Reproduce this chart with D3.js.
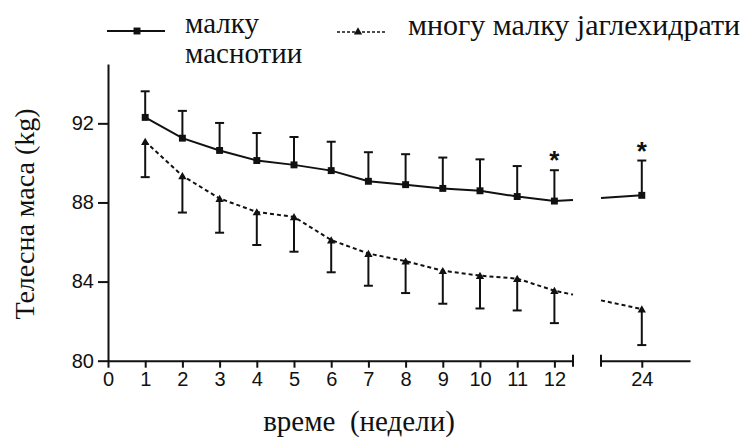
<!DOCTYPE html>
<html lang="mk">
<head>
<meta charset="utf-8">
<script src="https://cdn.jsdelivr.net/npm/d3@7"></script>
<style>
body { margin: 0; background: #fff; }
</style>
</head>
<body>
<div id="chart"></div>
<script>
// weeks 1..12 plus the week 24 point after the axis break
var weeks = [1, 2, 3, 4, 5, 6, 7, 8, 9, 10, 11, 12]
var lowFat = [92.3, 91.25, 90.63, 90.12, 89.9, 89.61, 89.07, 88.9, 88.71, 88.59, 88.3, 88.07]
var lowFatErr = [1.32, 1.38, 1.39, 1.39, 1.41, 1.46, 1.47, 1.54, 1.56, 1.59, 1.54, 1.56]
var lowCarb = [91.08, 89.35, 88.2, 87.52, 87.27, 86.1, 85.42, 85.03, 84.55, 84.3, 84.15, 83.54]
var lowCarbErr = [1.8, 1.86, 1.73, 1.67, 1.76, 1.63, 1.63, 1.61, 1.67, 1.66, 1.61, 1.64]
var week24 = 24
var lowFat24 = 88.36, lowFatErr24 = 1.76
var lowCarb24 = 82.61, lowCarbErr24 = 1.82
// line stubs at the axis break (left end, right start)
var breakWeeks = [12.5, 22.9]
var lowFatStub = [88.12, 88.22]
var lowCarbStub = [83.34, 83.05]
var yTicks = [80, 84, 88, 92]
var xTicks = [0, 1, 2, 3, 4, 5, 6, 7, 8, 9, 10, 11, 12]

var width = 741
var height = 438
var ink = "#111"
var sans = "'Liberation Sans'"
var serif = "'Liberation Serif'"

var svg = d3.select("#chart").append("svg")
    .attr("width", width)
    .attr("height", height)

var y = d3.scaleLinear().domain([80, 95]).range([360.7, 64])
var x1 = d3.scaleLinear().domain([0, 12.5]).range([108, 573])
var x2 = d3.scaleLinear().domain([22.9, 25.3]).range([601, 690])

function styleAxis(g) {
    g.selectAll("path, line").attr("stroke", ink).attr("stroke-width", 2)
    g.selectAll("text").attr("fill", ink)
        .style("font-family", sans).style("font-size", "20px")
}

// y axis
svg.append("g")
    .attr("transform", "translate(" + x1(0) + ",0)")
    .call(d3.axisLeft(y).tickValues(yTicks).tickSize(10).tickSizeOuter(0).tickPadding(4))
    .call(styleAxis)

// x axis, left part
svg.append("g")
    .attr("transform", "translate(0," + y(80) + ")")
    .call(d3.axisBottom(x1).tickValues(xTicks).tickSize(7).tickSizeOuter(0).tickPadding(4))
    .call(styleAxis)

// x axis, right part
svg.append("g")
    .attr("transform", "translate(0," + y(80) + ")")
    .call(d3.axisBottom(x2).tickValues([week24]).tickFormat(d3.format("d"))
        .tickSize(7).tickSizeOuter(0).tickPadding(4))
    .call(styleAxis)

// break end marks
svg.selectAll(".brk").data([x1(breakWeeks[0]), x2(breakWeeks[1])]).enter().append("line")
    .attr("x1", function(d) { return d }).attr("x2", function(d) { return d })
    .attr("y1", y(80) - 6).attr("y2", y(80) + 6)
    .attr("stroke", ink).attr("stroke-width", 2)

var line = d3.line().x(function(d) { return d[0] }).y(function(d) { return d[1] })

function seriesPoints(vals, stub) {
    var pts = weeks.map(function(w, i) { return [x1(w), y(vals[i])] })
    pts.push([x1(breakWeeks[0]), y(stub[0])])
    return pts
}

// low fat: solid
svg.append("path")
    .attr("d", line(seriesPoints(lowFat, lowFatStub)))
    .attr("fill", "none").attr("stroke", ink).attr("stroke-width", 2)
svg.append("path")
    .attr("d", line([[x2(breakWeeks[1]), y(lowFatStub[1])], [x2(week24), y(lowFat24)]]))
    .attr("fill", "none").attr("stroke", ink).attr("stroke-width", 2)

// low carb: dashed
svg.append("path")
    .attr("d", line(seriesPoints(lowCarb, lowCarbStub)))
    .attr("fill", "none").attr("stroke", ink).attr("stroke-width", 2)
    .attr("stroke-dasharray", "4,3")
svg.append("path")
    .attr("d", line([[x2(breakWeeks[1]), y(lowCarbStub[1])], [x2(week24), y(lowCarb24)]]))
    .attr("fill", "none").attr("stroke", ink).attr("stroke-width", 2)
    .attr("stroke-dasharray", "4,3")

function errBar(px, y0, y1) {
    svg.append("line").attr("x1", px).attr("x2", px).attr("y1", y0).attr("y2", y1)
        .attr("stroke", ink).attr("stroke-width", 2)
    svg.append("line").attr("x1", px - 4.5).attr("x2", px + 4.5).attr("y1", y1).attr("y2", y1)
        .attr("stroke", ink).attr("stroke-width", 2)
}

weeks.forEach(function(w, i) {
    errBar(x1(w), y(lowFat[i]), y(lowFat[i] + lowFatErr[i]))
    errBar(x1(w), y(lowCarb[i]), y(lowCarb[i] - lowCarbErr[i]))
})
errBar(x2(week24), y(lowFat24), y(lowFat24 + lowFatErr24))
errBar(x2(week24), y(lowCarb24), y(lowCarb24 - lowCarbErr24))

var square = d3.symbol().type(d3.symbolSquare).size(48)
var triangle = d3.symbol().type(d3.symbolTriangle).size(30)

var fatPts = weeks.map(function(w, i) { return [x1(w), y(lowFat[i])] })
fatPts.push([x2(week24), y(lowFat24)])
var carbPts = weeks.map(function(w, i) { return [x1(w), y(lowCarb[i])] })
carbPts.push([x2(week24), y(lowCarb24)])

svg.selectAll(".sq").data(fatPts).enter().append("path")
    .attr("d", square)
    .attr("transform", function(d) { return "translate(" + d[0] + "," + d[1] + ")" })
    .attr("fill", ink)
svg.selectAll(".tri").data(carbPts).enter().append("path")
    .attr("d", triangle)
    .attr("transform", function(d) { return "translate(" + d[0] + "," + (d[1] + 1) + ")" })
    .attr("fill", ink)

// significance stars
var stars = [[x1(12), y(lowFat[11] + lowFatErr[11])], [x2(week24), y(lowFat24 + lowFatErr24)]]
svg.selectAll(".star").data(stars).enter().append("text")
    .attr("x", function(d) { return d[0] })
    .attr("y", function(d) { return d[1] - 1 })
    .attr("text-anchor", "middle").attr("fill", ink)
    .style("font-family", sans).style("font-weight", "bold").style("font-size", "26px")
    .text("*")

// axis titles
svg.append("text")
    .attr("transform", "translate(34,214) rotate(-90)")
    .attr("text-anchor", "middle").attr("fill", ink)
    .style("font-family", serif).style("font-size", "28px")
    .text("Телесна маса (kg)")
svg.append("text")
    .attr("x", 359).attr("y", 431)
    .attr("text-anchor", "middle").attr("fill", ink)
    .style("font-family", serif).style("font-size", "29px")
    .style("white-space", "pre")
    .text("време  (недели)")

// legend
var lg = svg.append("g")
lg.append("line").attr("x1", 107).attr("x2", 165).attr("y1", 31).attr("y2", 31)
    .attr("stroke", ink).attr("stroke-width", 2)
lg.append("path").attr("d", square).attr("transform", "translate(137,31)").attr("fill", ink)
lg.append("line").attr("x1", 337).attr("x2", 385).attr("y1", 32).attr("y2", 32)
    .attr("stroke", ink).attr("stroke-width", 1.5).attr("stroke-dasharray", "3,2")
lg.append("path").attr("d", triangle).attr("transform", "translate(358,32)").attr("fill", ink)

var legendTexts = [
    {x: 185, y: 33, t: "малку", s: 29},
    {x: 185, y: 63, t: "маснотии", s: 29},
    {x: 408, y: 35, t: "многу малку јаглехидрати", s: 30}
]
lg.selectAll("text").data(legendTexts).enter().append("text")
    .attr("x", function(d) { return d.x })
    .attr("y", function(d) { return d.y })
    .attr("fill", ink)
    .style("font-family", serif)
    .style("font-size", function(d) { return d.s + "px" })
    .text(function(d) { return d.t })
</script>
</body>
</html>
